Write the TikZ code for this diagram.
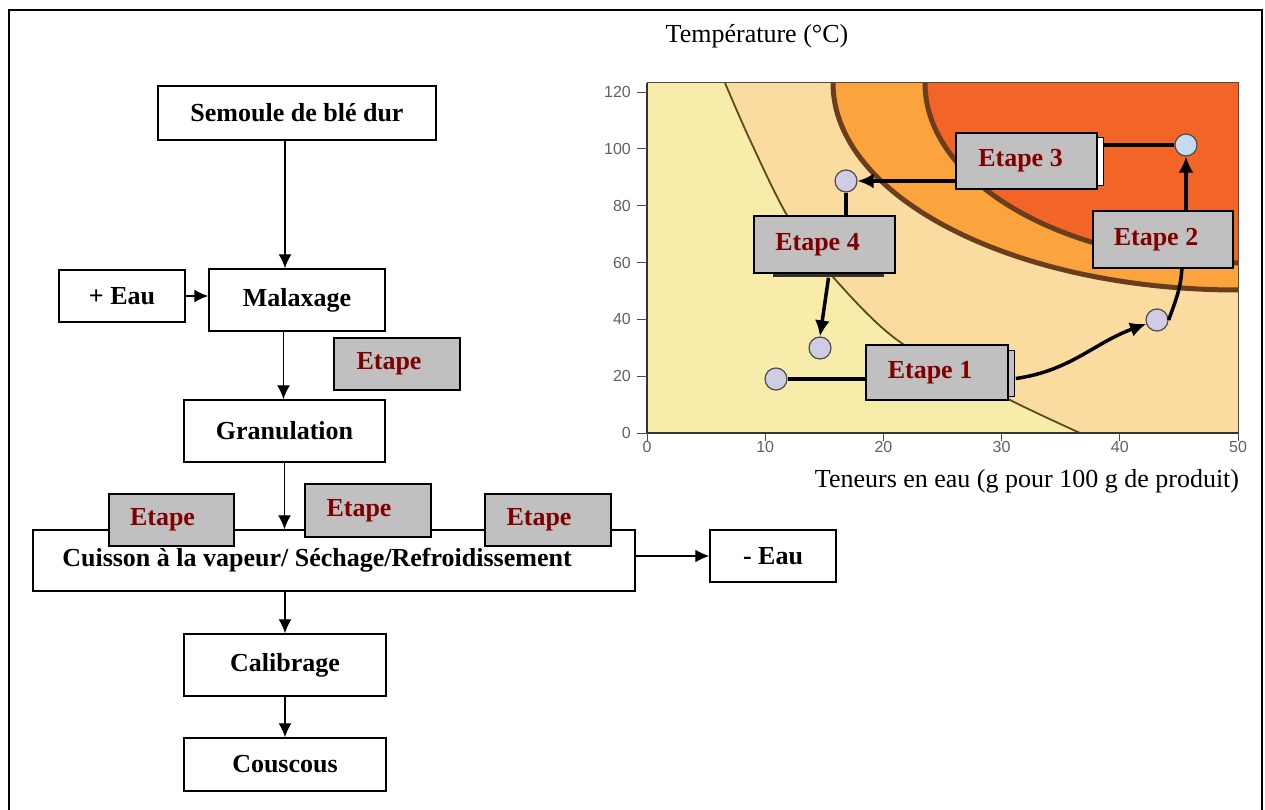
\documentclass[tikz,border=0pt]{standalone}
\usepackage{fontspec}
\setmainfont{Liberation Serif}
\setsansfont{Liberation Sans}
\usetikzlibrary{arrows.meta,calc}
\definecolor{darkred}{HTML}{800000}
\definecolor{etgray}{HTML}{C0C0C0}
\definecolor{paleY}{HTML}{F8ECAA}
\definecolor{peach}{HTML}{FBDCA0}
\definecolor{orng}{HTML}{FBA33C}
\definecolor{redo}{HTML}{F26526}
\definecolor{brownL}{HTML}{6A3E1C}
\definecolor{oliveL}{HTML}{5A4A1E}
\definecolor{ptfill}{HTML}{CFCCE4}
\definecolor{ptblue}{HTML}{C4DCF2}
\tikzset{
  x=1pt, y=-1pt,
  every node/.style={font=\fontsize{26}{30}\selectfont},
  fbox/.style={draw, line width=1.5pt, fill=white, inner sep=0pt, font=\fontsize{26}{30}\selectfont\bfseries},
  etbox/.style={draw, line width=1.5pt, fill=etgray, inner sep=0pt, text=darkred, font=\fontsize{26}{30}\selectfont\bfseries},
  farr/.style={line width=1.4pt, -{Latex[length=14pt,width=13pt]}},
  cline/.style={line width=3.5pt, black},
  carr/.style={line width=3.5pt, black, -{Latex[length=16pt,width=15pt]}},
  pt/.style={circle, draw=gray!60!black, line width=1.2pt, fill=ptfill, minimum size=22pt, inner sep=0pt},
  ticklab/.style={font=\fontsize{16}{18}\sffamily, text=gray!75!black, inner sep=1pt}
}
\begin{document}
\begin{tikzpicture}
\useasboundingbox (0,0) rectangle (1265,810);
% outer frame (open at bottom)
\draw[line width=1.5pt] (9,812) -- (9,10) -- (1262,10) -- (1262,812);

% ===== chart =====
\begin{scope}
\clip (647,83) rectangle (1238,433);
\fill[paleY] (647,83) rectangle (1238,433);
\fill[peach] plot[smooth] coordinates {(725,83) (750,140) (788,217) (833,277) (900,342) (1010,400) (1080,433)} -- (1238,433) -- (1238,83) -- cycle;
\draw[oliveL, line width=1.8pt] plot[smooth] coordinates {(725,83) (750,140) (788,217) (833,277) (900,342) (1010,400) (1080,433)};
\fill[orng] (1238,83) ellipse [x radius=405, y radius=207];
\draw[brownL, line width=5pt] (1238,83) ellipse [x radius=405, y radius=207];
\fill[redo] (1238,83) ellipse [x radius=313, y radius=180];
\draw[brownL, line width=5pt] (1238,83) ellipse [x radius=313, y radius=180];
\end{scope}
\draw[gray!60!black, line width=1pt] (647,83) rectangle (1238,433);
\draw[gray!40!black, line width=1.5pt] (647,83) -- (647,433) -- (1238,433);
\foreach \v in {0,20,...,120} {
  \draw[gray!60!black, line width=1pt] (637,{433-2.84*\v}) -- (647,{433-2.84*\v});
  \node[ticklab, anchor=east] at (632,{433-2.84*\v}) {\v};
}
\foreach \v in {0,10,...,50} {
  \draw[gray!60!black, line width=1pt] ({647+11.82*\v},433) -- ({647+11.82*\v},441);
  \node[ticklab, anchor=north] at ({647+11.82*\v},440) {\v};
}
\node (ttemp) at (757,36) {Température (°C)};
\node (tten) at (1027,481) {Teneurs en eau (g pour 100 g de produit)};

% points
\node[pt] (p1) at (776,379) {};
\node[pt] (p2) at (820,348) {};
\node[pt] (p3) at (1157,320) {};
\node[pt, fill=ptblue] (p4) at (1186,145) {};
\node[pt] (p5) at (846,181) {};

% chart connectors under boxes
\draw[cline] (p3.east) to[out=70,in=-90] (1182,262);

% side strips
\draw[line width=1pt, fill=etgray] (1006,350) rectangle (1014,396);
\draw[line width=1pt, fill=white] (1095,138) rectangle (1103,186);
\fill[gray!40!black] (773,270) rectangle (884,277);

% chart etape boxes
\node[etbox, minimum width=142pt, minimum height=55pt] (e1) at (937,372.5) {\raisebox{-2pt}{Etape 1}\kern14pt};
\node[etbox, minimum width=140pt, minimum height=57pt] (e2) at (1163,239.5) {\raisebox{-2pt}{Etape 2}\kern14pt};
\node[etbox, minimum width=141pt, minimum height=56pt] (e3) at (1026.5,161) {\raisebox{-2pt}{Etape 3}\kern12pt};
\node[etbox, minimum width=141pt, minimum height=57pt] (e4) at (824.5,244.5) {\raisebox{-2pt}{Etape 4}\kern14pt};

\draw[cline] (p1.east) -- (p1.east -| e1.west);
\draw[carr] ([xshift=7pt,yshift=-6pt]e1.east) to[out=8,in=200] (p3);
\draw[carr] (p4.south |- e2.north) -- (p4.south);
\draw[cline] (p4.west) -- ([xshift=6pt]p4.west -| e3.east);
\draw[carr] (p5.east -| e3.west) -- (p5.east);
\draw[cline] (p5.south) -- (p5.south |- e4.north);
\draw[carr] ([xshift=4pt,yshift=-4pt]e4.south) -- (p2.north);

% ===== flowchart =====
\node[fbox, minimum width=278pt, minimum height=54pt] (semoule) at (297,113) {Semoule de blé dur};
\node[fbox, minimum width=126pt, minimum height=52pt] (eau) at (122,296) {+ Eau};
\node[fbox, minimum width=176pt, minimum height=62pt] (malax) at (297,300) {Malaxage};
\node[etbox, minimum width=126pt, minimum height=52pt] (et0) at (397,364) {\raisebox{-3pt}{Etape}\kern16pt};
\node[fbox, minimum width=201pt, minimum height=62pt] (granul) at (284.5,431) {Granulation};
\node[fbox, minimum width=602pt, minimum height=61pt] (cuisson) at (334,560.5) {\raisebox{3pt}{Cuisson à la vapeur/ Séchage/Refroidissement}\kern34pt};
\node[etbox, minimum width=125pt, minimum height=52pt] (etA) at (171.5,520) {\raisebox{-3pt}{Etape}\kern18pt};
\node[etbox, minimum width=126pt, minimum height=53pt] (etB) at (368,510.5) {\raisebox{-3pt}{Etape}\kern18pt};
\node[etbox, minimum width=126pt, minimum height=52pt] (etC) at (548,520) {\raisebox{-3pt}{Etape}\kern18pt};
\node[fbox, minimum width=126pt, minimum height=52pt] (meau) at (773,556) {- Eau};
\node[fbox, minimum width=202pt, minimum height=62pt] (calib) at (285,665) {Calibrage};
\node[fbox, minimum width=202pt, minimum height=53pt] (cous) at (285,764.5) {Couscous};

\draw[farr] ([xshift=-12pt]semoule.south) -- ([xshift=-12pt]malax.north);
\draw[farr] (eau.east) -- (eau.east -| malax.west);
\draw[farr] ([xshift=-1pt]granul.north |- malax.south) -- ([xshift=-1pt]granul.north);
\draw[farr] (granul.south) -- (granul.south |- cuisson.north);
\draw[farr] (meau.west -| cuisson.east) -- (meau.west);
\draw[farr] (calib.north |- cuisson.south) -- (calib.north);
\draw[farr] (calib.south) -- (cous.north);
\end{tikzpicture}
\end{document}
